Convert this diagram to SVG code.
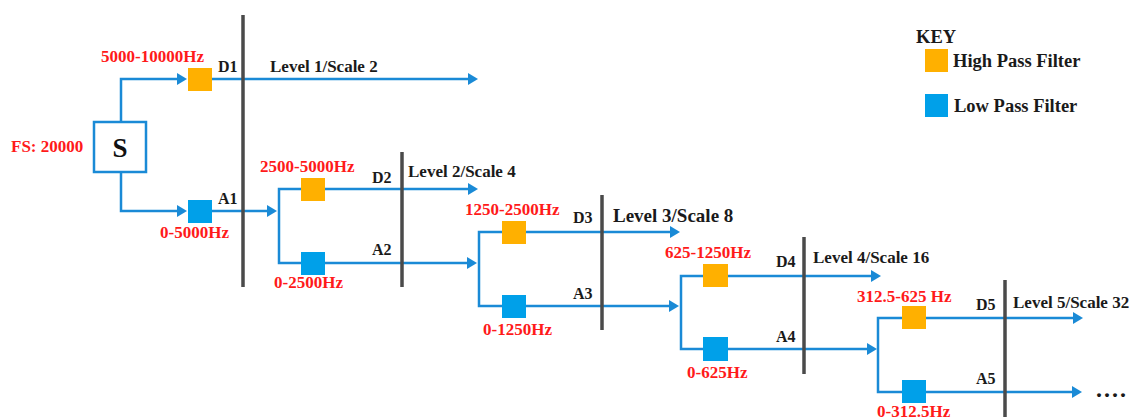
<svg xmlns="http://www.w3.org/2000/svg" width="1138" height="420" viewBox="0 0 1138 420">
<defs>
<marker id="ah" markerUnits="userSpaceOnUse" markerWidth="10" markerHeight="12" viewBox="0 0 10 12" refX="6" refY="6" orient="auto">
<path d="M0,0 L10,6 L0,12 Z" fill="#1a8ad6"/>
</marker>
<style>
.ln{fill:none;stroke:#1a8ad6;stroke-width:2.5}
.ar{marker-end:url(#ah)}
.bar{stroke:#4a4a4a;stroke-width:3.5}
.hp{fill:#ffb000}
.lp{fill:#00a0e9}
.rd{font-family:"Liberation Serif",serif;font-weight:bold;font-size:17px;fill:#ff1a1a}
.bk{font-family:"Liberation Serif",serif;font-weight:bold;font-size:17px;fill:#1a1a1a}
.lb{font-family:"Liberation Serif",serif;font-weight:bold;font-size:16px;fill:#1a1a1a}
.ky{font-family:"Liberation Serif",serif;font-weight:bold;font-size:18.5px;fill:#1a1a1a}
</style>
</defs>
<rect width="1138" height="420" fill="#ffffff"/>

<g id="connectors">
<!-- level 1 -->
<path class="ln ar" d="M121,122 V79 H183"/>
<path class="ln ar" d="M121,172 V211 H183"/>
<path class="ln ar" d="M212,79 H474"/>
<path class="ln ar" d="M212,211 H273"/>
<!-- level 2 -->
<path class="ln" d="M301,189 H279 V263 H301"/>
<path class="ln ar" d="M325,189 H474"/>
<path class="ln ar" d="M325,263 H473"/>
<!-- level 3 -->
<path class="ln" d="M502,232 H479 V306 H502"/>
<path class="ln ar" d="M526,232 H676"/>
<path class="ln ar" d="M526,306 H675"/>
<!-- level 4 -->
<path class="ln" d="M703,276 H681 V349 H703"/>
<path class="ln ar" d="M728,276 H877"/>
<path class="ln ar" d="M728,349 H873"/>
<!-- level 5 -->
<path class="ln" d="M902,318 H878 V392 H902"/>
<path class="ln ar" d="M926,318 H1079"/>
<path class="ln ar" d="M926,392 H1078"/>
</g>

<g id="bars">
<line class="bar" x1="243" y1="15" x2="243" y2="287"/>
<line class="bar" x1="402" y1="152" x2="402" y2="287"/>
<line class="bar" x1="602" y1="195" x2="602" y2="330"/>
<line class="bar" x1="804" y1="237" x2="804" y2="374"/>
<line class="bar" x1="1005" y1="280" x2="1005" y2="417"/>
</g>

<g id="S">
<rect x="94" y="122" width="52" height="50" fill="#ffffff" stroke="#1a8ad6" stroke-width="2.5"/>
<text x="120" y="157" text-anchor="middle" font-family="Liberation Serif,serif" font-weight="bold" font-size="27" fill="#111">S</text>
<text class="rd" x="11" y="152">FS: 20000</text>
</g>

<g id="HPF1"><rect class="hp" x="188" y="68" width="24" height="23"/><text class="rd" x="101" y="62">5000-10000Hz</text></g>
<g id="LPF1"><rect class="lp" x="188" y="200" width="24" height="23"/><text class="rd" x="160" y="238">0-5000Hz</text></g>
<g id="HPF2"><rect class="hp" x="301" y="178" width="24" height="23"/><text class="rd" x="260" y="172">2500-5000Hz</text></g>
<g id="LPF2"><rect class="lp" x="301" y="252" width="24" height="23"/><text class="rd" x="274" y="288">0-2500Hz</text></g>
<g id="HPF3"><rect class="hp" x="502" y="221" width="24" height="23"/><text class="rd" x="465" y="215">1250-2500Hz</text></g>
<g id="LPF3"><rect class="lp" x="502" y="295" width="24" height="23"/><text class="rd" x="483" y="335">0-1250Hz</text></g>
<g id="HPF4"><rect class="hp" x="703" y="264" width="25" height="23"/><text class="rd" x="665" y="258">625-1250Hz</text></g>
<g id="LPF4"><rect class="lp" x="703" y="337" width="25" height="24"/><text class="rd" x="687" y="378">0-625Hz</text></g>
<g id="HPF5"><rect class="hp" x="902" y="306" width="24" height="23"/><text class="rd" x="857" y="302">312.5-625 Hz</text></g>
<g id="LPF5"><rect class="lp" x="902" y="380" width="24" height="23"/><text class="rd" x="877" y="417">0-312.5Hz</text></g>

<g id="labels">
<text class="lb" x="218" y="72">D1</text>
<text class="lb" x="218" y="204">A1</text>
<text class="bk" x="270" y="72">Level 1/Scale 2</text>
<text class="lb" x="372" y="183">D2</text>
<text class="lb" x="372" y="255">A2</text>
<text class="bk" x="408" y="177">Level 2/Scale 4</text>
<text class="lb" x="573" y="223">D3</text>
<text class="lb" x="573" y="299">A3</text>
<text class="bk" x="613" y="222" style="font-size:19px">Level 3/Scale 8</text>
<text class="lb" x="776" y="267">D4</text>
<text class="lb" x="776" y="342">A4</text>
<text class="bk" x="813" y="263">Level 4/Scale 16</text>
<text class="lb" x="976" y="310">D5</text>
<text class="lb" x="976" y="384">A5</text>
<text class="bk" x="1013" y="308">Level 5/Scale 32</text>
<text class="bk" x="1096" y="397" style="font-size:24px;letter-spacing:2px">....</text>
</g>

<g id="key">
<text class="ky" x="916" y="43">KEY</text>
<rect class="hp" x="925" y="49" width="23" height="23"/>
<text class="ky" x="953" y="67">High Pass Filter</text>
<rect class="lp" x="925" y="94" width="23" height="23"/>
<text class="ky" x="954" y="112">Low Pass Filter</text>
</g>
</svg>
